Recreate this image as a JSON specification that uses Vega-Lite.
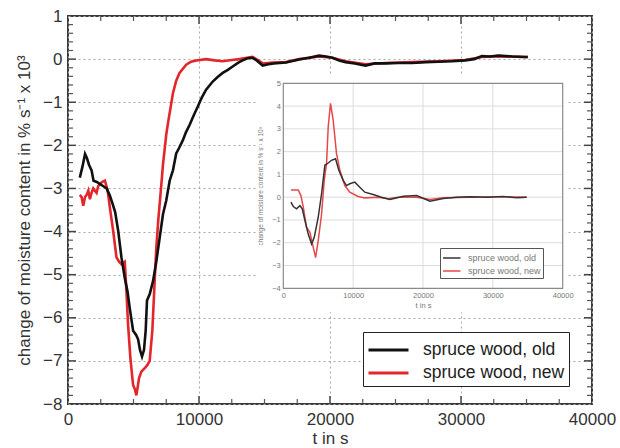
{
  "$schema": "https://vega.github.io/schema/vega-lite/v6.json",
  "width": 524,
  "height": 388,
  "autosize": "none",
  "padding": {"left": 68, "top": 16, "right": 28, "bottom": 44},
  "background": "white",
  "config": {
    "font": "Liberation Sans",
    "view": {"stroke": "#3a3a3a", "strokeWidth": 2},
    "axis": {"titleFontWeight": "normal", "labelFlush": false, "labelOverlap": false}
  },
  "datasets": {
    "main": [
      {"s":"spruce wood, new","t":900,"v":-3.15},{"s":"spruce wood, new","t":1040,"v":-3.2},{"s":"spruce wood, new","t":1166,"v":-3.4},{"s":"spruce wood, new","t":1300,"v":-3.2},{"s":"spruce wood, new","t":1420,"v":-3.15},{"s":"spruce wood, new","t":1550,"v":-3.05},{"s":"spruce wood, new","t":1673,"v":-3.25},{"s":"spruce wood, new","t":1800,"v":-3.1},{"s":"spruce wood, new","t":1927,"v":-3.0},{"s":"spruce wood, new","t":2050,"v":-3.05},{"s":"spruce wood, new","t":2180,"v":-3.1},{"s":"spruce wood, new","t":2300,"v":-2.95},{"s":"spruce wood, new","t":2434,"v":-2.9},{"s":"spruce wood, new","t":2600,"v":-2.85},{"s":"spruce wood, new","t":2814,"v":-2.82},{"s":"spruce wood, new","t":2940,"v":-2.95},{"s":"spruce wood, new","t":3050,"v":-3.1},{"s":"spruce wood, new","t":3194,"v":-3.44},{"s":"spruce wood, new","t":3447,"v":-3.98},{"s":"spruce wood, new","t":3701,"v":-4.6},{"s":"spruce wood, new","t":3900,"v":-4.7},{"s":"spruce wood, new","t":4081,"v":-4.76},{"s":"spruce wood, new","t":4334,"v":-4.7},{"s":"spruce wood, new","t":4461,"v":-5.39},{"s":"spruce wood, new","t":4588,"v":-6.17},{"s":"spruce wood, new","t":4765,"v":-6.94},{"s":"spruce wood, new","t":4968,"v":-7.56},{"s":"spruce wood, new","t":5100,"v":-7.65},{"s":"spruce wood, new","t":5221,"v":-7.8},{"s":"spruce wood, new","t":5424,"v":-7.4},{"s":"spruce wood, new","t":5601,"v":-7.25},{"s":"spruce wood, new","t":5855,"v":-7.17},{"s":"spruce wood, new","t":6050,"v":-7.1},{"s":"spruce wood, new","t":6235,"v":-7.0},{"s":"spruce wood, new","t":6438,"v":-6.3},{"s":"spruce wood, new","t":6616,"v":-5.15},{"s":"spruce wood, new","t":6742,"v":-4.37},{"s":"spruce wood, new","t":6900,"v":-3.7},{"s":"spruce wood, new","t":7100,"v":-3.0},{"s":"spruce wood, new","t":7250,"v":-2.45},{"s":"spruce wood, new","t":7500,"v":-1.75},{"s":"spruce wood, new","t":7630,"v":-1.49},{"s":"spruce wood, new","t":8010,"v":-0.79},{"s":"spruce wood, new","t":8260,"v":-0.5},{"s":"spruce wood, new","t":8516,"v":-0.32},{"s":"spruce wood, new","t":9023,"v":-0.13},{"s":"spruce wood, new","t":9400,"v":-0.06},{"s":"spruce wood, new","t":9783,"v":-0.03},{"s":"spruce wood, new","t":10543,"v":0.0},{"s":"spruce wood, new","t":11200,"v":-0.03},{"s":"spruce wood, new","t":11810,"v":-0.05},{"s":"spruce wood, new","t":12500,"v":-0.02},{"s":"spruce wood, new","t":13077,"v":0.0},{"s":"spruce wood, new","t":14090,"v":0.05},{"s":"spruce wood, new","t":14500,"v":-0.02},{"s":"spruce wood, new","t":14860,"v":-0.1},{"s":"spruce wood, new","t":15600,"v":-0.08},{"s":"spruce wood, new","t":16630,"v":-0.07},{"s":"spruce wood, new","t":17640,"v":0.0},{"s":"spruce wood, new","t":19160,"v":0.06},{"s":"spruce wood, new","t":20180,"v":0.03},{"s":"spruce wood, new","t":21190,"v":-0.05},{"s":"spruce wood, new","t":22710,"v":-0.12},{"s":"spruce wood, new","t":24240,"v":-0.09},{"s":"spruce wood, new","t":26260,"v":-0.07},{"s":"spruce wood, new","t":28280,"v":-0.05},{"s":"spruce wood, new","t":30310,"v":-0.02},{"s":"spruce wood, new","t":31590,"v":0.05},{"s":"spruce wood, new","t":32860,"v":0.07},{"s":"spruce wood, new","t":34880,"v":0.05},{"s":"spruce wood, new","t":35100,"v":0.05},
      {"s":"spruce wood, old","t":900,"v":-2.75},{"s":"spruce wood, old","t":1100,"v":-2.5},{"s":"spruce wood, old","t":1300,"v":-2.2},{"s":"spruce wood, old","t":1450,"v":-2.3},{"s":"spruce wood, old","t":1600,"v":-2.45},{"s":"spruce wood, old","t":1800,"v":-2.58},{"s":"spruce wood, old","t":1950,"v":-2.82},{"s":"spruce wood, old","t":2200,"v":-2.85},{"s":"spruce wood, old","t":2450,"v":-2.9},{"s":"spruce wood, old","t":2700,"v":-2.95},{"s":"spruce wood, old","t":2950,"v":-3.0},{"s":"spruce wood, old","t":3200,"v":-3.17},{"s":"spruce wood, old","t":3400,"v":-3.35},{"s":"spruce wood, old","t":3600,"v":-3.55},{"s":"spruce wood, old","t":3830,"v":-3.98},{"s":"spruce wood, old","t":4080,"v":-4.6},{"s":"spruce wood, old","t":4330,"v":-5.07},{"s":"spruce wood, old","t":4550,"v":-5.4},{"s":"spruce wood, old","t":4710,"v":-5.77},{"s":"spruce wood, old","t":4970,"v":-6.3},{"s":"spruce wood, old","t":5200,"v":-6.4},{"s":"spruce wood, old","t":5350,"v":-6.5},{"s":"spruce wood, old","t":5500,"v":-6.75},{"s":"spruce wood, old","t":5650,"v":-6.9},{"s":"spruce wood, old","t":5800,"v":-6.75},{"s":"spruce wood, old","t":5930,"v":-6.3},{"s":"spruce wood, old","t":6030,"v":-5.6},{"s":"spruce wood, old","t":6240,"v":-5.45},{"s":"spruce wood, old","t":6490,"v":-5.15},{"s":"spruce wood, old","t":6740,"v":-4.7},{"s":"spruce wood, old","t":7000,"v":-4.14},{"s":"spruce wood, old","t":7250,"v":-3.6},{"s":"spruce wood, old","t":7500,"v":-3.28},{"s":"spruce wood, old","t":7760,"v":-2.82},{"s":"spruce wood, old","t":8010,"v":-2.58},{"s":"spruce wood, old","t":8260,"v":-2.19},{"s":"spruce wood, old","t":8500,"v":-2.05},{"s":"spruce wood, old","t":8770,"v":-1.88},{"s":"spruce wood, old","t":9000,"v":-1.7},{"s":"spruce wood, old","t":9280,"v":-1.53},{"s":"spruce wood, old","t":9600,"v":-1.3},{"s":"spruce wood, old","t":9910,"v":-1.1},{"s":"spruce wood, old","t":10200,"v":-0.9},{"s":"spruce wood, old","t":10540,"v":-0.71},{"s":"spruce wood, old","t":11050,"v":-0.52},{"s":"spruce wood, old","t":11400,"v":-0.42},{"s":"spruce wood, old","t":11810,"v":-0.32},{"s":"spruce wood, old","t":12200,"v":-0.25},{"s":"spruce wood, old","t":12570,"v":-0.17},{"s":"spruce wood, old","t":13000,"v":-0.08},{"s":"spruce wood, old","t":13330,"v":-0.03},{"s":"spruce wood, old","t":13700,"v":0.02},{"s":"spruce wood, old","t":14090,"v":0.03},{"s":"spruce wood, old","t":14400,"v":-0.03},{"s":"spruce wood, old","t":14860,"v":-0.15},{"s":"spruce wood, old","t":15300,"v":-0.12},{"s":"spruce wood, old","t":15700,"v":-0.1},{"s":"spruce wood, old","t":16630,"v":-0.08},{"s":"spruce wood, old","t":17640,"v":-0.01},{"s":"spruce wood, old","t":18400,"v":0.03},{"s":"spruce wood, old","t":19160,"v":0.08},{"s":"spruce wood, old","t":19700,"v":0.06},{"s":"spruce wood, old","t":20180,"v":0.03},{"s":"spruce wood, old","t":20700,"v":-0.03},{"s":"spruce wood, old","t":21190,"v":-0.07},{"s":"spruce wood, old","t":21900,"v":-0.1},{"s":"spruce wood, old","t":22710,"v":-0.15},{"s":"spruce wood, old","t":23400,"v":-0.1},{"s":"spruce wood, old","t":24240,"v":-0.1},{"s":"spruce wood, old","t":25200,"v":-0.09},{"s":"spruce wood, old","t":26260,"v":-0.09},{"s":"spruce wood, old","t":27300,"v":-0.07},{"s":"spruce wood, old","t":28280,"v":-0.06},{"s":"spruce wood, old","t":29300,"v":-0.05},{"s":"spruce wood, old","t":30310,"v":-0.03},{"s":"spruce wood, old","t":31000,"v":0.0},{"s":"spruce wood, old","t":31590,"v":0.07},{"s":"spruce wood, old","t":32200,"v":0.06},{"s":"spruce wood, old","t":32860,"v":0.08},{"s":"spruce wood, old","t":33900,"v":0.06},{"s":"spruce wood, old","t":34880,"v":0.05},{"s":"spruce wood, old","t":35100,"v":0.05}
    ],
    "inset": [
      {"s":"spruce wood, new","t":1100,"v":0.32},{"s":"spruce wood, new","t":2140,"v":0.32},{"s":"spruce wood, new","t":2520,"v":0.07},{"s":"spruce wood, new","t":2860,"v":-0.44},{"s":"spruce wood, new","t":3330,"v":-1.32},{"s":"spruce wood, new","t":3810,"v":-1.54},{"s":"spruce wood, new","t":4290,"v":-2.2},{"s":"spruce wood, new","t":4620,"v":-2.65},{"s":"spruce wood, new","t":5000,"v":-1.91},{"s":"spruce wood, new","t":5480,"v":-0.74},{"s":"spruce wood, new","t":5860,"v":0.74},{"s":"spruce wood, new","t":6190,"v":1.47},{"s":"spruce wood, new","t":6430,"v":3.09},{"s":"spruce wood, new","t":6760,"v":4.12},{"s":"spruce wood, new","t":7140,"v":3.38},{"s":"spruce wood, new","t":7620,"v":1.91},{"s":"spruce wood, new","t":8100,"v":1.18},{"s":"spruce wood, new","t":8810,"v":0.51},{"s":"spruce wood, new","t":9520,"v":0.22},{"s":"spruce wood, new","t":10710,"v":0.03},{"s":"spruce wood, new","t":11670,"v":-0.03},{"s":"spruce wood, new","t":13570,"v":0.0},{"s":"spruce wood, new","t":15000,"v":-0.07},{"s":"spruce wood, new","t":16430,"v":0.0},{"s":"spruce wood, new","t":19100,"v":0.0},{"s":"spruce wood, new","t":21000,"v":-0.1},{"s":"spruce wood, new","t":22900,"v":-0.03},{"s":"spruce wood, new","t":26730,"v":0.0},{"s":"spruce wood, new","t":31500,"v":0.02},{"s":"spruce wood, new","t":34840,"v":0.0},
      {"s":"spruce wood, old","t":1100,"v":-0.22},{"s":"spruce wood, old","t":1430,"v":-0.41},{"s":"spruce wood, old","t":1900,"v":-0.51},{"s":"spruce wood, old","t":2380,"v":-0.37},{"s":"spruce wood, old","t":2710,"v":-0.51},{"s":"spruce wood, old","t":3100,"v":-1.03},{"s":"spruce wood, old","t":3570,"v":-1.62},{"s":"spruce wood, old","t":4050,"v":-2.06},{"s":"spruce wood, old","t":4430,"v":-1.76},{"s":"spruce wood, old","t":5000,"v":-0.88},{"s":"spruce wood, old","t":5480,"v":0.15},{"s":"spruce wood, old","t":5950,"v":1.4},{"s":"spruce wood, old","t":6430,"v":1.5},{"s":"spruce wood, old","t":6900,"v":1.62},{"s":"spruce wood, old","t":7480,"v":1.69},{"s":"spruce wood, old","t":7950,"v":1.18},{"s":"spruce wood, old","t":8570,"v":0.74},{"s":"spruce wood, old","t":9050,"v":0.51},{"s":"spruce wood, old","t":9520,"v":0.59},{"s":"spruce wood, old","t":10240,"v":0.66},{"s":"spruce wood, old","t":10950,"v":0.44},{"s":"spruce wood, old","t":11670,"v":0.22},{"s":"spruce wood, old","t":12860,"v":0.12},{"s":"spruce wood, old","t":14050,"v":0.0},{"s":"spruce wood, old","t":15270,"v":-0.1},{"s":"spruce wood, old","t":17180,"v":0.04},{"s":"spruce wood, old","t":19090,"v":0.07},{"s":"spruce wood, old","t":21000,"v":-0.18},{"s":"spruce wood, old","t":22900,"v":-0.06},{"s":"spruce wood, old","t":24820,"v":0.0},{"s":"spruce wood, old","t":26730,"v":0.02},{"s":"spruce wood, old","t":29100,"v":0.0},{"s":"spruce wood, old","t":31500,"v":0.03},{"s":"spruce wood, old","t":33400,"v":-0.03},{"s":"spruce wood, old","t":34840,"v":0.0}
    ],
    "hgrid": [{"v":-3},{"v":-2},{"v":-1},{"v":0},{"v":1},{"v":2},{"v":3},{"v":4}],
    "vgrid": [{"t":10000},{"t":20000},{"t":30000}],
    "mxmin": [{"t":2500},{"t":5000},{"t":7500},{"t":12500},{"t":15000},{"t":17500},{"t":22500},{"t":25000},{"t":27500},{"t":32500},{"t":35000},{"t":37500}],
    "mymaj": [{"v":-7},{"v":-6},{"v":-5},{"v":-4},{"v":-3},{"v":-2},{"v":-1},{"v":0}],
    "mymin": [{"v":-7.8},{"v":-7.6},{"v":-7.4},{"v":-7.2},{"v":-6.8},{"v":-6.6},{"v":-6.4},{"v":-6.2},{"v":-5.8},{"v":-5.6},{"v":-5.4},{"v":-5.2},{"v":-4.8},{"v":-4.6},{"v":-4.4},{"v":-4.2},{"v":-3.8},{"v":-3.6},{"v":-3.4},{"v":-3.2},{"v":-2.8},{"v":-2.6},{"v":-2.4},{"v":-2.2},{"v":-1.8},{"v":-1.6},{"v":-1.4},{"v":-1.2},{"v":-0.8},{"v":-0.6},{"v":-0.4},{"v":-0.2},{"v":0.2},{"v":0.4},{"v":0.6},{"v":0.8}],
    "one": [{"k":1}]
  },
  "resolve": {"scale": {"x": "independent", "y": "independent", "color": "independent"}},
  "layer": [
    {
      "data": {"name": "main"},
      "mark": {"type": "line", "strokeWidth": 2.6},
      "encoding": {
        "x": {"field": "t", "type": "quantitative", "scale": {"domain": [0, 40000], "nice": false, "zero": false},
              "axis": {"orient": "bottom", "values": [0, 10000, 20000, 30000, 40000], "format": "d", "grid": true, "gridDash": [2, 3], "gridColor": "#a8a8a8", "ticks": false, "domain": false, "labelFontSize": 17, "labelColor": "#333", "labelPadding": 7, "title": "t in s", "titleFontSize": 17, "titleColor": "#333", "titlePadding": 3}},
        "y": {"field": "v", "type": "quantitative", "scale": {"domain": [-8, 1], "nice": false, "zero": false},
              "axis": {"orient": "left", "values": [-8, -7, -6, -5, -4, -3, -2, -1, 0, 1], "format": "d", "grid": true, "gridDash": [2, 3], "gridColor": "#a8a8a8", "ticks": false, "domain": false, "labelFontSize": 17, "labelColor": "#333", "labelPadding": 6, "title": "change of moisture content in % s⁻¹ x 10³", "titleFontSize": 17, "titleColor": "#333", "titlePadding": 9}},
        "color": {"field": "s", "type": "nominal", "scale": {"domain": ["spruce wood, old", "spruce wood, new"], "range": ["#111111", "#e3262a"]},
                  "legend": {"orient": "none", "legendX": 295, "legendY": 316, "title": null, "labelFontSize": 17.5, "labelColor": "#222", "strokeColor": "#222", "fillColor": "white", "padding": 4, "rowPadding": 0, "symbolType": "M-1,0H2.2", "symbolSize": 625, "symbolStrokeWidth": 3, "labelOffset": 28}}
      }
    },
    {
      "data": {"name": "one"},
      "mark": {"type": "rect", "fill": "white", "strokeWidth": 0},
      "encoding": {
        "x": {"datum": -3700, "type": "quantitative", "scale": {"domain": [0, 40000], "range": [215.3, 494.7], "nice": false, "zero": false}, "axis": null},
        "x2": {"datum": 40400},
        "y": {"datum": 5.3, "type": "quantitative", "scale": {"domain": [-4, 5], "range": [272.3, 67.3], "nice": false, "zero": false}, "axis": null},
        "y2": {"datum": -5.05}
      }
    },
    {
      "data": {"name": "hgrid"},
      "mark": {"type": "rule", "color": "#dcdcdc", "strokeWidth": 1},
      "encoding": {
        "y": {"field": "v", "type": "quantitative", "scale": {"domain": [-4, 5], "range": [272.3, 67.3], "nice": false, "zero": false}, "axis": null},
        "x": {"datum": 0, "type": "quantitative", "scale": {"domain": [0, 40000], "range": [215.3, 494.7], "nice": false, "zero": false}, "axis": null},
        "x2": {"datum": 40000}
      }
    },
    {
      "data": {"name": "vgrid"},
      "mark": {"type": "rule", "color": "#dcdcdc", "strokeWidth": 1},
      "encoding": {
        "x": {"field": "t", "type": "quantitative", "scale": {"domain": [0, 40000], "range": [215.3, 494.7], "nice": false, "zero": false}, "axis": null},
        "y": {"datum": -4, "type": "quantitative", "scale": {"domain": [-4, 5], "range": [272.3, 67.3], "nice": false, "zero": false}, "axis": null},
        "y2": {"datum": 5}
      }
    },
    {
      "data": {"name": "one"},
      "mark": {"type": "rect", "fillOpacity": 0, "stroke": "#8a8a8a", "strokeWidth": 1.2},
      "encoding": {
        "x": {"datum": 0, "type": "quantitative", "scale": {"domain": [0, 40000], "range": [215.3, 494.7], "nice": false, "zero": false}, "axis": null},
        "x2": {"datum": 40000},
        "y": {"datum": -4, "type": "quantitative", "scale": {"domain": [-4, 5], "range": [272.3, 67.3], "nice": false, "zero": false}, "axis": null},
        "y2": {"datum": 5}
      }
    },
    {
      "data": {"name": "inset"},
      "mark": {"type": "line", "strokeWidth": 1.5},
      "encoding": {
        "x": {"field": "t", "type": "quantitative", "scale": {"domain": [0, 40000], "range": [215.3, 494.7], "nice": false, "zero": false},
              "axis": {"orient": "bottom", "offset": -115.7, "zindex": 1, "values": [0, 10000, 20000, 30000, 40000], "format": "d", "grid": false, "ticks": false, "domain": false, "labelFontSize": 7.5, "labelColor": "#777", "labelPadding": 3, "title": "t in s", "titleFontSize": 7.5, "titleColor": "#777", "titlePadding": 3}},
        "y": {"field": "v", "type": "quantitative", "scale": {"domain": [-4, 5], "range": [272.3, 67.3], "nice": false, "zero": false},
              "axis": {"orient": "left", "offset": -215.3, "zindex": 1, "values": [-4, -3, -2, -1, 0, 1, 2, 3, 4, 5], "format": "d", "grid": false, "ticks": false, "domain": false, "labelFontSize": 7.5, "labelColor": "#777", "labelPadding": 3, "title": "change of moisture content in % s⁻¹ x 10³", "titleFontSize": 6.5, "titleColor": "#777", "titlePadding": 8}},
        "color": {"field": "s", "type": "nominal", "scale": {"domain": ["spruce wood, old", "spruce wood, new"], "range": ["#333333", "#e8474a"]},
                  "legend": {"orient": "none", "legendX": 372, "legendY": 232, "title": null, "labelFontSize": 9, "labelColor": "#777", "strokeColor": "#555", "fillColor": "white", "padding": 2, "rowPadding": 0, "symbolType": "M-1,0H1.5", "symbolSize": 196, "symbolStrokeWidth": 1.5, "labelOffset": 10}}
      }
    },
    {
      "data": {"name": "vgrid"},
      "mark": {"type": "rule", "color": "#444", "strokeWidth": 1.5},
      "encoding": {
        "x": {"field": "t", "type": "quantitative", "scale": {"domain": [0, 40000], "range": [0, 524], "nice": false, "zero": false}, "axis": null},
        "y": {"datum": -8, "type": "quantitative", "scale": {"domain": [-8, 1], "range": [388, 0], "nice": false, "zero": false}, "axis": null},
        "y2": {"datum": -7.814}
      }
    },
    {
      "data": {"name": "vgrid"},
      "mark": {"type": "rule", "color": "#444", "strokeWidth": 1.5},
      "encoding": {
        "x": {"field": "t", "type": "quantitative", "scale": {"domain": [0, 40000], "range": [0, 524], "nice": false, "zero": false}, "axis": null},
        "y": {"datum": 1, "type": "quantitative", "scale": {"domain": [-8, 1], "range": [388, 0], "nice": false, "zero": false}, "axis": null},
        "y2": {"datum": 0.814}
      }
    },
    {
      "data": {"name": "mxmin"},
      "mark": {"type": "rule", "color": "#555", "strokeWidth": 1.2},
      "encoding": {
        "x": {"field": "t", "type": "quantitative", "scale": {"domain": [0, 40000], "range": [0, 524], "nice": false, "zero": false}, "axis": null},
        "y": {"datum": -8, "type": "quantitative", "scale": {"domain": [-8, 1], "range": [388, 0], "nice": false, "zero": false}, "axis": null},
        "y2": {"datum": -7.884}
      }
    },
    {
      "data": {"name": "mxmin"},
      "mark": {"type": "rule", "color": "#555", "strokeWidth": 1.2},
      "encoding": {
        "x": {"field": "t", "type": "quantitative", "scale": {"domain": [0, 40000], "range": [0, 524], "nice": false, "zero": false}, "axis": null},
        "y": {"datum": 1, "type": "quantitative", "scale": {"domain": [-8, 1], "range": [388, 0], "nice": false, "zero": false}, "axis": null},
        "y2": {"datum": 0.884}
      }
    },
    {
      "data": {"name": "mymaj"},
      "mark": {"type": "rule", "color": "#444", "strokeWidth": 1.5},
      "encoding": {
        "y": {"field": "v", "type": "quantitative", "scale": {"domain": [-8, 1], "range": [388, 0], "nice": false, "zero": false}, "axis": null},
        "x": {"datum": 0, "type": "quantitative", "scale": {"domain": [0, 40000], "range": [0, 524], "nice": false, "zero": false}, "axis": null},
        "x2": {"datum": 611}
      }
    },
    {
      "data": {"name": "mymaj"},
      "mark": {"type": "rule", "color": "#444", "strokeWidth": 1.5},
      "encoding": {
        "y": {"field": "v", "type": "quantitative", "scale": {"domain": [-8, 1], "range": [388, 0], "nice": false, "zero": false}, "axis": null},
        "x": {"datum": 40000, "type": "quantitative", "scale": {"domain": [0, 40000], "range": [0, 524], "nice": false, "zero": false}, "axis": null},
        "x2": {"datum": 39389}
      }
    },
    {
      "data": {"name": "mymin"},
      "mark": {"type": "rule", "color": "#555", "strokeWidth": 1.2},
      "encoding": {
        "y": {"field": "v", "type": "quantitative", "scale": {"domain": [-8, 1], "range": [388, 0], "nice": false, "zero": false}, "axis": null},
        "x": {"datum": 0, "type": "quantitative", "scale": {"domain": [0, 40000], "range": [0, 524], "nice": false, "zero": false}, "axis": null},
        "x2": {"datum": 382}
      }
    },
    {
      "data": {"name": "mymin"},
      "mark": {"type": "rule", "color": "#555", "strokeWidth": 1.2},
      "encoding": {
        "y": {"field": "v", "type": "quantitative", "scale": {"domain": [-8, 1], "range": [388, 0], "nice": false, "zero": false}, "axis": null},
        "x": {"datum": 40000, "type": "quantitative", "scale": {"domain": [0, 40000], "range": [0, 524], "nice": false, "zero": false}, "axis": null},
        "x2": {"datum": 39618}
      }
    }
  ]
}
